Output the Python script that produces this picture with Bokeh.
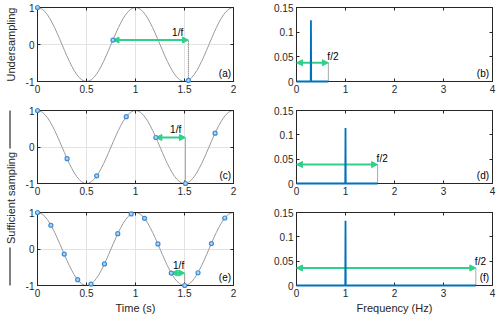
from bokeh.plotting import figure
from bokeh.models import Range1d, FixedTicker, LinearAxis, Arrow, NormalHead
from bokeh.layouts import row, column
from bokeh.embed import file_html
from bokeh.resources import INLINE
from bokeh.core.properties import value
import math

# ---------------- data ----------------
# continuous signal: one period of the cosine read at 0.025 s steps
period_y = [1.0, 0.988, 0.951, 0.891, 0.809, 0.707, 0.588, 0.454, 0.309, 0.156, 0.0,
            -0.156, -0.309, -0.454, -0.588, -0.707, -0.809, -0.891, -0.951, -0.988, -1.0,
            -0.988, -0.951, -0.891, -0.809, -0.707, -0.588, -0.454, -0.309, -0.156, 0.0,
            0.156, 0.309, 0.454, 0.588, 0.707, 0.809, 0.891, 0.951, 0.988, 1.0]
curve_t = [round(i * 0.025, 3) for i in range(81)]
curve_y = period_y + period_y[1:]

# sampled points
a_t = [0.0, 0.77, 1.54]
a_y = [1.0, 0.12, -0.97]
c_t = [0.0, 0.302, 0.604, 0.906, 1.208, 1.51, 1.812]
c_y = [1.0, -0.32, -0.79, 0.83, 0.26, -1.0, 0.38]
e_t = [0.0, 0.1365, 0.273, 0.41, 0.546, 0.683, 0.819, 0.956, 1.092, 1.229,
       1.365, 1.502, 1.638, 1.775, 1.911]
e_y = [1.0, 0.65, -0.14, -0.84, -0.96, -0.41, 0.42, 0.96, 0.84, 0.14,
       -0.66, -1.0, -0.65, 0.15, 0.85]

# 1/f markers (sampling interval)
inv_f_start = [0.77, 1.208, 1.365]
inv_f_end = [1.54, 1.51, 1.502]
inv_f_level = [0.12, 0.26, -0.66]
inv_f_bottom = [-0.97, -1.0, -1.0]
inv_f_label_x = [1.43, 1.41, 1.44]

# spectra
b_f = [0.0, 0.29, 0.295, 0.30, 0.65]
b_a = [0.0, 0.0, 0.124, 0.0, 0.0]
d_f = [0.0, 0.995, 1.0, 1.005, 1.655]
d_a = [0.0, 0.0, 0.114, 0.0, 0.0]
f_f = [0.0, 0.995, 1.0, 1.005, 3.66]
f_a = [0.0, 0.0, 0.133, 0.0, 0.0]

half_fs = [0.65, 1.655, 3.66]
half_fs_level = [0.038, 0.039, 0.036]

time_ticks = [0, 0.5, 1, 1.5, 2]
time_tick_labels = ["0", "0.5", "1", "1.5", "2"]
sig_ticks = [-1, 0, 1]
sig_tick_labels = ["-1", "0", "1"]
freq_ticks = [0, 1, 2, 3, 4]
freq_tick_labels = ["0", "1", "2", "3", "4"]
amp_ticks = [0, 0.05, 0.1, 0.15]
amp_tick_labels = ["0", "0.05", "0.1", "0.15"]
left_tags = ["(a)", "(c)", "(e)"]
right_tags = ["(b)", "(d)", "(f)"]

# ---------------- styles ----------------
AX = "#262626"
GRID = "#e3e3e3"
CURVE = "#9a9a9a"
MK_LINE = "#3a8dd6"
MK_FILL = "#b3d4f2"
GREEN = "#2fd08a"
BLUE = "#0072bd"
DOT = "#555555"
FONT = "Liberation Sans"


def setup_axis(ax, ticks, labels, show_labels=True):
    ax.ticker = FixedTicker(ticks=ticks, minor_ticks=[])
    ax.axis_line_color = AX
    ax.major_tick_line_color = AX
    ax.minor_tick_line_color = None
    ax.major_tick_in = 3
    ax.major_tick_out = 0
    ax.major_label_text_font = FONT
    ax.major_label_text_color = AX
    if show_labels:
        ax.major_label_overrides = {t: l for t, l in zip(ticks, labels)}
        ax.major_label_text_font_size = "10px"
        ax.major_label_standoff = 3
    else:
        ax.major_label_overrides = {t: "" for t in ticks}
        ax.major_label_text_font_size = "0px"
        ax.major_label_standoff = 0


def make_fig(w, h, xr, yr, xt, xl, yt, yl, bl, br, bt, bb, grid, xlabel=None):
    p = figure(width=w, height=h, x_range=Range1d(*xr), y_range=Range1d(*yr),
               output_backend="svg", toolbar_location=None, tools="",
               min_border_left=bl, min_border_right=br,
               min_border_top=bt, min_border_bottom=bb)
    p.outline_line_color = AX
    p.background_fill_color = "white"
    p.border_fill_color = "white"
    setup_axis(p.xaxis[0], xt, xl)
    setup_axis(p.yaxis[0], yt, yl)
    if xlabel:
        ax = p.xaxis[0]
        ax.axis_label = xlabel
        ax.axis_label_text_font = FONT
        ax.axis_label_text_font_size = "11px"
        ax.axis_label_text_font_style = "normal"
        ax.axis_label_text_color = AX
        ax.axis_label_standoff = 2
    top = LinearAxis()
    setup_axis(top, xt, xl, False)
    p.add_layout(top, "above")
    right = LinearAxis()
    setup_axis(right, yt, yl, False)
    p.add_layout(right, "right")
    if grid:
        p.xgrid.ticker = FixedTicker(ticks=xt)
        p.ygrid.ticker = FixedTicker(ticks=yt)
        p.grid.grid_line_color = GRID
    else:
        p.grid.grid_line_color = None
    return p


def head():
    return NormalHead(size=6, fill_color=GREEN, line_color=GREEN, line_width=1)


def txt(p, x, y, s, align, baseline="bottom"):
    p.text(x=[x], y=[y], text=[s], text_align=align, text_baseline=baseline,
           text_font=value(FONT), text_font_size="10px", text_color="black")


def left_panel(i, st, sy, h, bt, bb, xlabel=None):
    p = make_fig(246, h, (0, 2), (-1, 1), time_ticks, time_tick_labels,
                 sig_ticks, sig_tick_labels, 17, 33, bt, bb, True, xlabel)
    p.line(curve_t, curve_y, line_color=CURVE, line_width=1)
    x0, x1 = inv_f_start[i], inv_f_end[i]
    lv, lb = inv_f_level[i], inv_f_bottom[i]
    p.line([x1, x1], [lb, lv], line_color=DOT, line_dash="1 1", line_width=1)
    p.add_layout(Arrow(start=head(), end=head(), x_start=x0, y_start=lv,
                       x_end=x1, y_end=lv, line_color=GREEN, line_width=2))
    r = p.scatter(st, sy, size=4, marker="circle", line_color=MK_LINE,
                  fill_color=MK_FILL, line_width=1.2)
    r.level = "overlay"
    txt(p, inv_f_label_x[i], lv + 0.06, "1/f", "center")
    txt(p, 1.975, -0.93, left_tags[i], "right")
    return p


def right_panel(i, fr, am, h, bt, bb, xlabel=None):
    p = make_fig(234, h, (0, 4), (0, 0.15), freq_ticks, freq_tick_labels,
                 amp_ticks, amp_tick_labels, 30, 8, bt, bb, False, xlabel)
    hf, lv = half_fs[i], half_fs_level[i]
    p.line([hf, hf], [0, lv], line_color=DOT, line_dash="1 1", line_width=1)
    r = p.line(fr, am, line_color=BLUE, line_width=1.8)
    r.level = "overlay"
    p.add_layout(Arrow(start=head(), end=head(), x_start=0, y_start=lv,
                       x_end=hf, y_end=lv, line_color=GREEN, line_width=2))
    txt(p, hf - 0.02, lv + 0.001, "f/2", "left")
    txt(p, 3.93, 0.005, right_tags[i], "right")
    return p


pa = left_panel(0, a_t, a_y, 105, 7, 24)
pc = left_panel(1, c_t, c_y, 102, 5, 24)
pe = left_panel(2, e_t, e_y, 109, 5, 31, "Time (s)")
pb = right_panel(0, b_f, b_a, 105, 7, 24)
pd = right_panel(1, d_f, d_a, 102, 5, 24)
pf = right_panel(2, f_f, f_a, 109, 5, 31, "Frequency (Hz)")

# left row labels (coordinates: data y = 316 - page y)
lab = figure(width=20, height=316, x_range=Range1d(0, 20), y_range=Range1d(0, 316),
             output_backend="svg", toolbar_location=None, tools="",
             x_axis_location=None, y_axis_location=None, min_border=0)
lab.outline_line_color = None
lab.grid.grid_line_color = None
lab.text(x=[10], y=[272], text=["Undersampling"], angle=math.pi / 2,
         text_align="center", text_baseline="middle", text_font=value(FONT),
         text_font_size="11px", text_color=AX)
lab.text(x=[10], y=[118.5], text=["Sufficient sampling"], angle=math.pi / 2,
         text_align="center", text_baseline="middle", text_font=value(FONT),
         text_font_size="11px", text_color=AX)
lab.segment(x0=[9.5, 9.5], y0=[206, 69], x1=[9.5, 9.5], y1=[168, 31],
            line_color="black", line_width=1)

layout = row(lab, column(pa, pc, pe), column(pb, pd, pf))

open("out.html", "w").write(file_html(layout, INLINE))
